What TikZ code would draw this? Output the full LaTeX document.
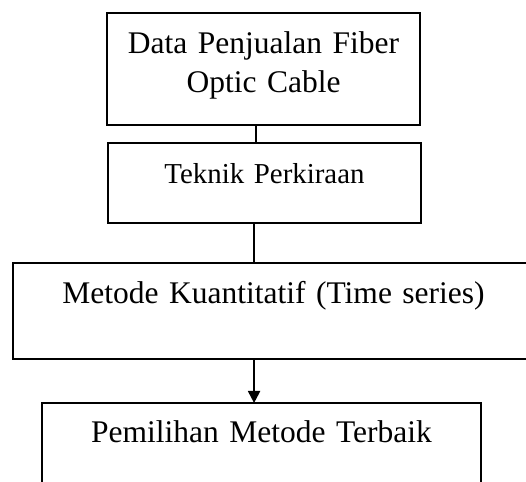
\documentclass[tikz,border=0pt]{standalone}
\usepackage{fontspec}
\setmainfont{Liberation Serif}
\usetikzlibrary{arrows.meta,positioning}

\begin{document}
\begin{tikzpicture}[
      node distance=6.86pt,
      stage/.style={draw,line width=0.75pt,align=center,inner xsep=0pt,inner ysep=0pt,
                    outer sep=0pt,text height=15.24pt,font=\fontsize{12}{14.86}\selectfont},
      link/.style={draw,line width=0.75pt},
      flow/.style={link,-{Triangle[length=4.6pt,width=4.6pt]}}
    ]
    \useasboundingbox (-100.38pt,4.95pt) rectangle (100.0pt,-178.29pt);
    \clip (-100.38pt,4.95pt) rectangle (100.0pt,-178.29pt);

    \node[stage,anchor=north,text width=119.2pt,text depth=27.43pt] (data) at (0,0)
      {Data Penjualan Fiber\\Optic Cable};
    \node[stage,below=of data,xshift=0.38pt,text width=119.2pt,text depth=15.24pt,
          font=\fontsize{11}{13}\selectfont] (teknik) {Teknik Perkiraan};
    \node[stage,below=15.24pt of teknik,xshift=3.43pt,text width=198.5pt,
          text depth=21.33pt] (metode) {Metode Kuantitatif (Time series)};
    \node[stage,below=16.76pt of metode,xshift=-4.57pt,text width=167.2pt,
          text height=14.86pt,text depth=22pt] (pilih) {Pemilihan Metode Terbaik};

    \draw[link] ([xshift=-2.9pt]data.south) -- ([xshift=-2.9pt]data.south |- teknik.north);
    \draw[link] ([xshift=-4pt]teknik.south) -- ([xshift=-4pt]teknik.south |- metode.north);
    \draw[flow] ([xshift=-7.4pt]metode.south) -- ([xshift=-7.4pt]metode.south |- pilih.north);
  \end{tikzpicture}
\end{document}
